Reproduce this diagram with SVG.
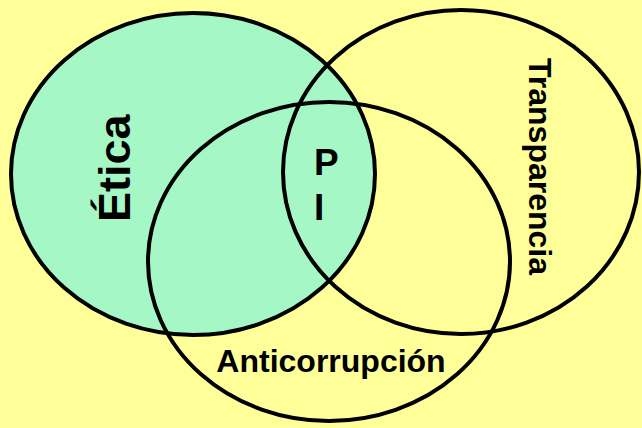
<svg xmlns="http://www.w3.org/2000/svg" width="642" height="428" viewBox="0 0 642 428">
<style>
.ring{fill:none;stroke:#000;stroke-width:4}
.lbl{font-family:"Liberation Sans",Arial,sans-serif;font-weight:bold;fill:#000}
</style>
<rect width="642" height="428" fill="#FFFF99"/>
<g id="etica">
<ellipse cx="193" cy="174" rx="182" ry="161" fill="#A5F8C6" stroke="#000" stroke-width="4"/>
<text class="lbl" font-size="45" transform="translate(130,222) rotate(-90)">Ética</text>
</g>
<g id="transparencia">
<ellipse class="ring" cx="461" cy="172" rx="178" ry="162"/>
<text class="lbl" font-size="32" transform="translate(529,58) rotate(90)">Transparencia</text>
</g>
<g id="anticorrupcion">
<ellipse class="ring" cx="329" cy="261.5" rx="181" ry="159.5"/>
<text class="lbl" font-size="32" x="331" y="372" text-anchor="middle">Anticorrupción</text>
</g>
<g id="pi">
<text class="lbl" font-size="37" x="314" y="175">P</text>
<text class="lbl" font-size="37" x="314" y="220">I</text>
</g>
</svg>
